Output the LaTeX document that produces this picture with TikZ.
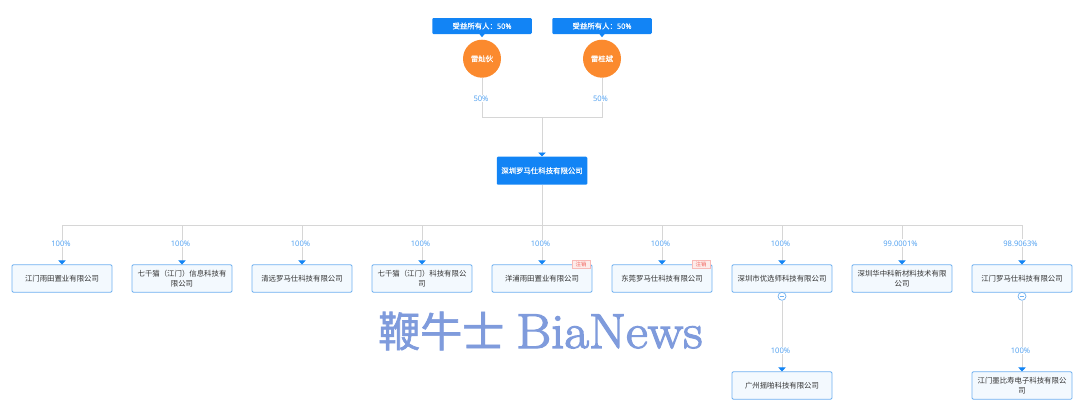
\documentclass[tikz,border=0pt]{standalone}
\usepackage{fontspec}
\setmainfont{Noto Sans CJK SC}
\newfontfamily\latinnum{Open Sans}
\newfontfamily\wmlatin[FakeStretch=1.09,FakeBold=2.6]{Latin Modern Roman}
\newfontfamily\wmcjk[FakeBold=1.5]{Noto Sans CJK SC}
\newfontfamily\whitecjk[FakeBold=0.5]{Noto Sans CJK SC}
\newfontfamily\whitenum[FakeBold=0.5]{Open Sans}
\usetikzlibrary{arrows.meta,calc}
\definecolor{mainblue}{HTML}{1284F5}
\definecolor{boxline}{HTML}{6FB0F0}
\definecolor{boxfill}{HTML}{F3F9FE}
\definecolor{pct}{HTML}{4A9DF0}
\definecolor{wire}{HTML}{D6D6D6}
\definecolor{orangec}{HTML}{FB8A2E}
\definecolor{wm}{HTML}{7F9BDC}
\definecolor{tagred}{HTML}{F0655F}
\definecolor{tagfill}{HTML}{FDECEA}
\definecolor{txt}{HTML}{333333}
\tikzset{
  x=1pt,y=-1pt,
  company/.style={draw=boxline,fill=boxfill,line width=0.8pt,rounded corners=1.2pt,minimum width=100pt,minimum height=27.5pt,inner sep=0pt,align=center,text=txt,font=\fontsize{7.4}{9.4}\selectfont},
  mainco/.style={fill=mainblue,rounded corners=1.2pt,minimum width=90.5pt,minimum height=28pt,inner sep=0pt,text=white,font=\whitecjk\fontsize{7.4}{9.4}\selectfont},
  badge/.style={fill=mainblue,rounded corners=1.2pt,minimum width=99.5pt,minimum height=16pt,inner sep=0pt,text=white,font=\whitecjk\fontsize{7.4}{9}\selectfont},
  person/.style={circle,fill=orangec,minimum size=38pt,inner sep=0pt,text=white,font=\whitecjk\fontsize{7.4}{9}\selectfont},
  pctlabel/.style={fill=white,inner sep=1pt,text=pct,font=\latinnum\fontsize{7.6}{8}\selectfont},
  wireline/.style={draw=wire,line width=0.8pt},
  tipped/.style={wireline,-{Triangle[width=7.5pt,length=4pt,color=mainblue]},shorten >=0pt},
  cancelled/.style={draw=tagred!45,fill=tagfill,line width=0.4pt,minimum width=18pt,minimum height=8.5pt,inner sep=0pt,text=tagred,font=\fontsize{5.4}{6}\selectfont},
  foldmark/.style={circle,draw=boxline,fill=white,line width=0.7pt,minimum size=8pt,inner sep=0pt},
}
\begin{document}
\begin{tikzpicture}
\useasboundingbox (0,0) rectangle (1080,416);
% top
\node[badge] (ba) at (482,26) {受益所有人：\whitenum 50\%};
\node[badge] (bb) at (602,26) {受益所有人：\whitenum 50\%};
\node[person] (pa) at (482,58.7) {雷灿伙};
\node[person] (pb) at (602,58.7) {雷桂斌};
\fill[mainblue] ($(ba.south)+(-2.5,0)$) -- ($(ba.south)+(2.5,0)$) -- ($(ba.south)+(0,3)$) -- cycle;
\fill[mainblue] ($(bb.south)+(-2.5,0)$) -- ($(bb.south)+(2.5,0)$) -- ($(bb.south)+(0,3)$) -- cycle;
\node[mainco] (main) at (542,170.7) {深圳罗马仕科技有限公司};
\coordinate (join) at (542,117);
\coordinate (bus) at (542,225);
\draw[wireline] (pa) |- (join);
\draw[wireline] (pb) |- (join);
\draw[tipped] (join) -- (main);
\draw[wireline] (main) -- (bus);
\node[pctlabel] at (481,98.5) {50\%};
\node[pctlabel] at (600.5,98.5) {50\%};
% row 1
\node[company] (c1) at (62,278.5) {江门雨田置业有限公司};
\node[company] (c2) at (182,278.5) {七千猫（江门）信息科技有\\限公司};
\node[company] (c3) at (302,278.5) {清远罗马仕科技有限公司};
\node[company] (c4) at (422,278.5) {七千猫（江门）科技有限公\\司};
\node[company] (c5) at (542,278.5) {洋浦雨田置业有限公司};
\node[company] (c6) at (662,278.5) {东莞罗马仕科技有限公司};
\node[company] (c7) at (782,278.5) {深圳市优选师科技有限公司};
\node[company] (c8) at (902,278.5) {深圳华中科新材料技术有限\\公司};
\node[company] (c9) at (1022,278.5) {江门罗马仕科技有限公司};
\foreach \n in {c1,c2,c3,c4,c5,c6,c7,c8,c9}{
  \draw[tipped] (bus) -| (\n.north);
}
\node[pctlabel] at (61,243.3) {100\%};
\node[pctlabel] at (180.5,243.3) {100\%};
\node[pctlabel] at (300.5,243.3) {100\%};
\node[pctlabel] at (420.5,243.3) {100\%};
\node[pctlabel] at (540.5,243.3) {100\%};
\node[pctlabel] at (660.5,243.3) {100\%};
\node[pctlabel] at (780.5,243.3) {100\%};
\node[pctlabel] at (900.5,243.3) {99.0001\%};
\node[pctlabel] at (1020.5,243.3) {98.9063\%};
\node[cancelled] (t5) at (581,264) {注销};
\node[cancelled] (t6) at (701,264) {注销};
% row 2
\node[company] (d7) at (782,385.5) {广州摇啪科技有限公司};
\node[company] (d9) at (1022,385.5) {江门墨比寿电子科技有限公\\司};
\node[foldmark] (f7) at (782,296.3) {};
\node[foldmark] (f9) at (1022,296.3) {};
\draw[boxline,line width=0.6pt] ($(f7)+(-2.2,0)$) -- ($(f7)+(2.2,0)$);
\draw[boxline,line width=0.6pt] ($(f9)+(-2.2,0)$) -- ($(f9)+(2.2,0)$);
\draw[tipped] (f7) -- (d7);
\draw[tipped] (f9) -- (d9);
\node[pctlabel] at (780.5,350.5) {100\%};
\node[pctlabel] at (1020.5,350.5) {100\%};
% watermark
\node[anchor=base west,inner sep=0pt,text=wm,font=\wmcjk\fontsize{42}{46}\selectfont] (wma) at (378,347) {鞭牛士};
\node[anchor=base west,inner sep=0pt,text=wm,font=\wmlatin\fontsize{49}{52}\selectfont] (wmb) at (516,348) {BiaNews};
\end{tikzpicture}
\end{document}
